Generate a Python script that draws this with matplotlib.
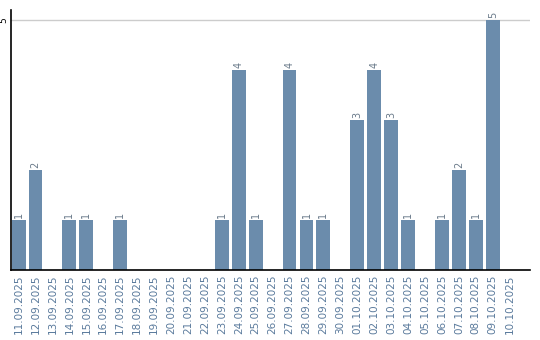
import matplotlib
matplotlib.use("Agg")
import matplotlib.pyplot as plt

dates = ["11.09.2025","12.09.2025","13.09.2025","14.09.2025","15.09.2025","16.09.2025",
         "17.09.2025","18.09.2025","19.09.2025","20.09.2025","21.09.2025","22.09.2025",
         "23.09.2025","24.09.2025","25.09.2025","26.09.2025","27.09.2025","28.09.2025",
         "29.09.2025","30.09.2025","01.10.2025","02.10.2025","03.10.2025","04.10.2025",
         "05.10.2025","06.10.2025","07.10.2025","08.10.2025","09.10.2025","10.10.2025"]
values = [1,2,0,1,1,0,1,0,0,0,0,0,1,4,1,0,4,1,1,0,3,4,3,1,0,1,2,1,5,0]

bar_color = "#6b8cac"
label_color = "#5a7a9c"

fig = plt.figure(figsize=(5.4, 3.4), dpi=100)
ax = fig.add_axes([11/540, 70/340, 519/540, 260/340])

x = list(range(len(dates)))
ax.bar(x, values, width=0.82, color=bar_color, zorder=2)
for xi, v in zip(x, values):
    if v > 0:
        ax.text(xi, v + 0.04, str(v), rotation=90, ha="center", va="bottom",
                fontsize=7, color="#6a7a8a")

ax.set_xlim(-0.45, 30.2)
ax.set_ylim(0, 5.2)
ax.set_yticks([5])
ax.set_yticklabels(["5"], rotation=90, va="center", ha="center", fontsize=6.5)
ax.yaxis.grid(True, color="#cccccc", linewidth=1, zorder=0)
ax.set_xticks(x)
ax.set_xticklabels(dates, rotation=90, fontsize=7.5, color=label_color)
ax.tick_params(axis="x", length=0, pad=3)
ax.tick_params(axis="y", length=0, pad=5)
for s in ["top", "right"]:
    ax.spines[s].set_visible(False)
ax.spines["left"].set_linewidth(1.2)
ax.spines["bottom"].set_linewidth(1.2)

fig.savefig("out.png", dpi=100)
